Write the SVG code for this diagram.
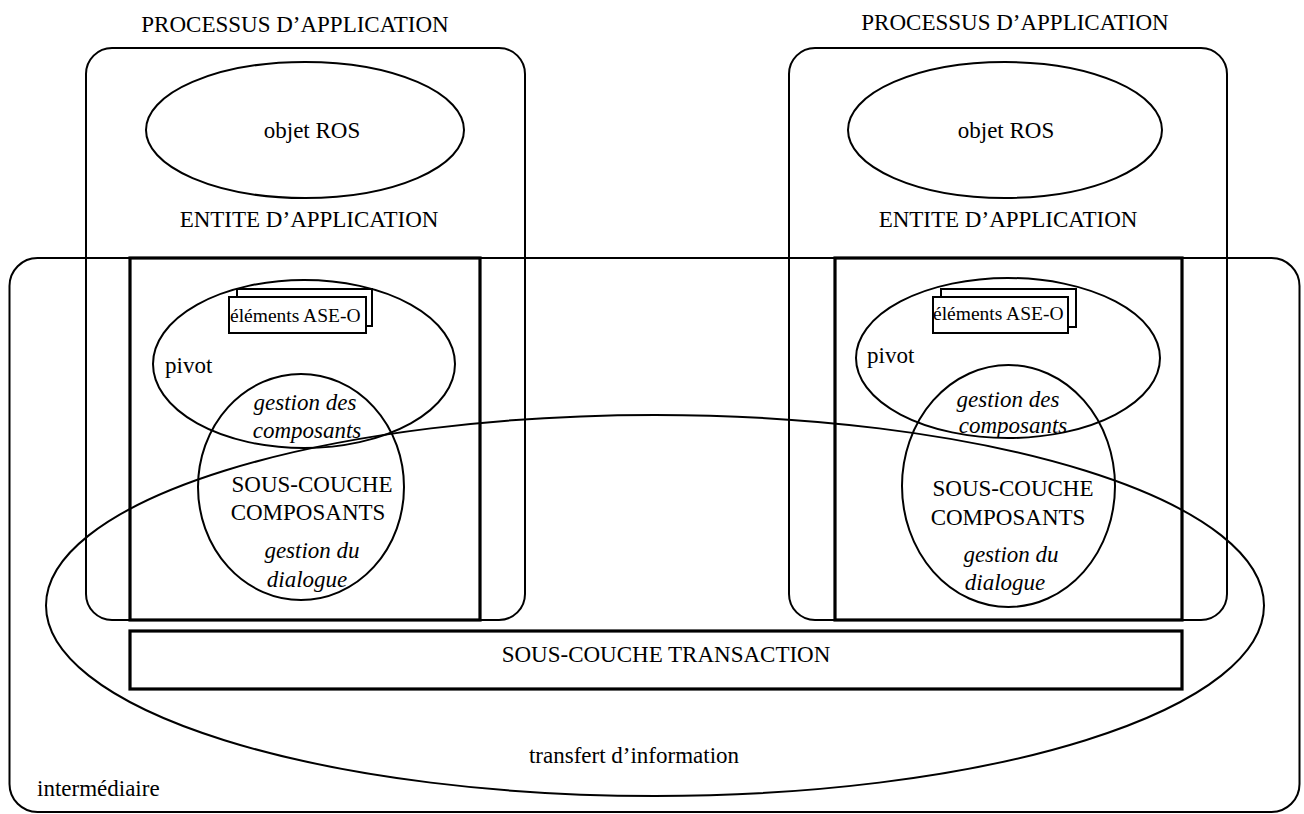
<svg xmlns="http://www.w3.org/2000/svg" width="1304" height="814" viewBox="0 0 1304 814">
<style>
text{font-family:"Liberation Serif","Times New Roman",serif;font-size:23px;fill:#000}
.m{text-anchor:middle}
.i{font-style:italic}
.s{font-size:19.5px}
.ln{fill:none;stroke:#000;stroke-width:2}
.th{fill:none;stroke:#000;stroke-width:3.2}
.w{fill:#fff;stroke:#000;stroke-width:2}
</style>
<rect width="1304" height="814" fill="#fff"/>
<g id="intermediaire">
<rect class="ln" x="9.5" y="258" width="1290" height="554" rx="28"/>
<text x="37" y="796">intermédiaire</text>
</g>
<g id="processus-gauche">
<rect class="ln" x="86" y="48" width="439" height="572" rx="26"/>
<text class="m" x="295" y="32">PROCESSUS D’APPLICATION</text>
</g>
<g id="processus-droit">
<rect class="ln" x="789" y="48" width="438" height="572" rx="26"/>
<text class="m" x="1015" y="30">PROCESSUS D’APPLICATION</text>
</g>
<g id="ros-gauche">
<ellipse class="ln" cx="305" cy="130" rx="159" ry="68"/>
<text class="m" x="312" y="138">objet ROS</text>
</g>
<g id="ros-droit">
<ellipse class="ln" cx="1005" cy="130" rx="157" ry="68"/>
<text class="m" x="1006" y="138">objet ROS</text>
</g>
<g id="entite-gauche">
<text class="m" x="309" y="227">ENTITE D’APPLICATION</text>
<rect class="th" x="130" y="258" width="350" height="362"/>
</g>
<g id="entite-droit">
<text class="m" x="1008" y="227">ENTITE D’APPLICATION</text>
<rect class="th" x="835" y="258" width="347" height="362"/>
</g>
<g id="pivot-gauche">
<ellipse class="ln" cx="304" cy="364" rx="151" ry="84"/>
<text x="165" y="373">pivot</text>
</g>
<g id="pivot-droit">
<ellipse class="ln" cx="1008" cy="358" rx="152" ry="80"/>
<text x="867" y="363">pivot</text>
</g>
<g id="ase-gauche">
<rect class="w" x="237" y="289" width="135" height="37"/>
<rect class="w" x="229" y="297" width="137" height="36"/>
<text class="s" x="230" y="322">éléments ASE-O</text>
</g>
<g id="ase-droit">
<rect class="w" x="941" y="289" width="135" height="38"/>
<rect class="w" x="933" y="297" width="135" height="36"/>
<text class="s" x="933" y="320">éléments ASE-O</text>
</g>
<g id="composants-gauche">
<ellipse class="ln" cx="301" cy="487" rx="103" ry="113"/>
<text class="m i" x="305" y="410">gestion des</text>
<text class="m i" x="307" y="438">composants</text>
<text class="m" x="312" y="492">SOUS-COUCHE</text>
<text class="m" x="308" y="520">COMPOSANTS</text>
<text class="m i" x="312" y="558">gestion du</text>
<text class="m i" x="307" y="587">dialogue</text>
</g>
<g id="composants-droit">
<ellipse class="ln" cx="1008.5" cy="486" rx="106.5" ry="121"/>
<text class="m i" x="1008" y="407">gestion des</text>
<text class="m i" x="1013" y="433">composants</text>
<text class="m" x="1013" y="496">SOUS-COUCHE</text>
<text class="m" x="1008" y="525">COMPOSANTS</text>
<text class="m i" x="1011" y="562">gestion du</text>
<text class="m i" x="1005" y="590">dialogue</text>
</g>
<g id="transaction">
<rect class="th" x="130" y="631" width="1052" height="58"/>
<text class="m" x="666" y="662">SOUS-COUCHE TRANSACTION</text>
</g>
<g id="transfert">
<ellipse class="ln" cx="655" cy="605.5" rx="609" ry="190.5"/>
<text class="m" x="634" y="763">transfert d’information</text>
</g>
<g id="connecteurs"></g>
</svg>
